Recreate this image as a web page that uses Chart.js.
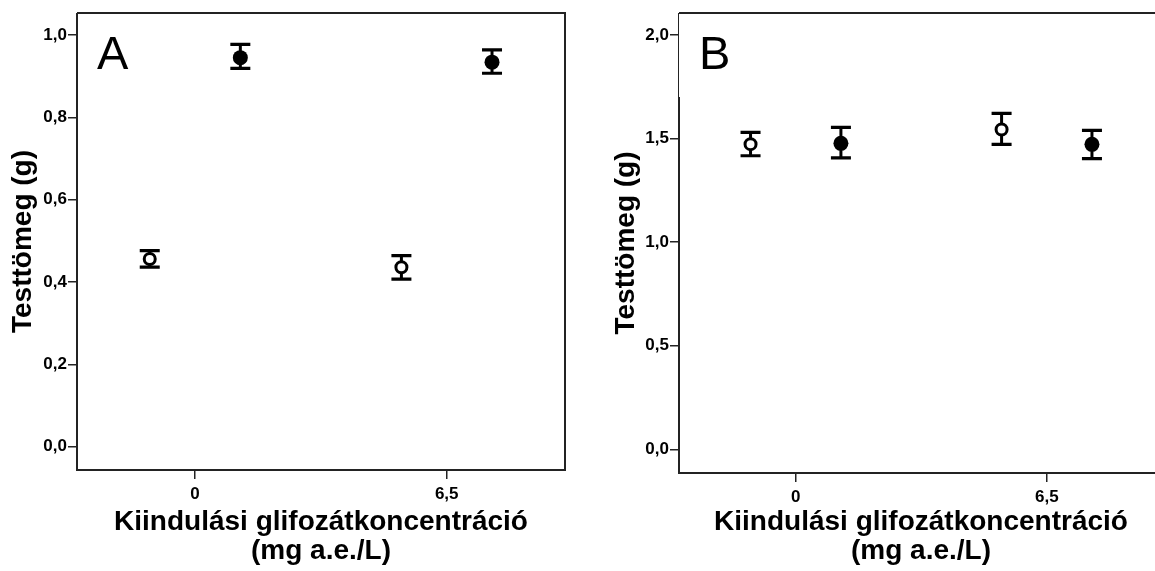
<!DOCTYPE html>
<html>
<head>
<meta charset="utf-8">
<script src="https://cdn.jsdelivr.net/npm/chart.js@4.4.1/dist/chart.umd.min.js"></script>
<style>
  html, body { margin: 0; padding: 0; background: #fff; overflow: hidden; width: 1155px; height: 571px; }
  #panelA { position: absolute; left: 0; top: 0; }
  #panelB { position: absolute; left: 590px; top: 0; }
</style>
</head>
<body>
<canvas id="panelA" width="590" height="571"></canvas>
<canvas id="panelB" width="600" height="571"></canvas>
<script>
// Shared categories and axis texts
const groups = ['0', '6,5'];
const xTitle = ['Kiindulási glifozátkoncentráció', '(mg a.e./L)'];
const yTitle = 'Testtömeg (g)';

// Panel A – body mass (g), mean with error-bar limits
const aTicks = [0, 0.2, 0.4, 0.6, 0.8, 1.0];
const aOpenMean = [0.456, 0.436];
const aOpenLow = [0.436, 0.407];
const aOpenHigh = [0.476, 0.464];
const aFilledMean = [0.945, 0.934];
const aFilledLow = [0.919, 0.907];
const aFilledHigh = [0.977, 0.964];

// Panel B – body mass (g), mean with error-bar limits
const bTicks = [0, 0.5, 1.0, 1.5, 2.0];
const bOpenMean = [1.473, 1.544];
const bOpenLow = [1.417, 1.472];
const bOpenHigh = [1.530, 1.622];
const bFilledMean = [1.477, 1.472];
const bFilledLow = [1.407, 1.403];
const bFilledHigh = [1.554, 1.540];

const FONT = '"Liberation Sans", Arial, sans-serif';
const INK = '#000';
const FRAME = '#232323';
const DODGE = 0.18;

// Whiskers drawn under the markers
const errorBars = {
  id: 'errorBars',
  beforeDatasetsDraw(chart) {
    const { ctx, scales: { x, y } } = chart;
    ctx.save();
    ctx.strokeStyle = INK;
    ctx.lineCap = 'butt';
    chart.data.datasets.forEach(ds => {
      ds.data.forEach((p, i) => {
        const px = x.getPixelForValue(p.x);
        const yl = y.getPixelForValue(ds.errLow[i]);
        const yh = y.getPixelForValue(ds.errHigh[i]);
        ctx.lineWidth = 3;
        ctx.beginPath();
        ctx.moveTo(px, yl); ctx.lineTo(px, yh);
        ctx.stroke();
        ctx.lineWidth = 3.2;
        ctx.beginPath();
        ctx.moveTo(px - 10, yl); ctx.lineTo(px + 10, yl);
        ctx.moveTo(px - 10, yh); ctx.lineTo(px + 10, yh);
        ctx.stroke();
      });
    });
    ctx.restore();
  }
};

// Plot frame and the panel letter
const frame = {
  id: 'frame',
  beforeDatasetsDraw(chart, args, opts) {
    const { ctx, chartArea: a } = chart;
    ctx.save();
    ctx.strokeStyle = FRAME;
    ctx.lineWidth = 2;
    ctx.beginPath();
    ctx.moveTo(a.left, a.top); ctx.lineTo(a.right, a.top);
    ctx.lineTo(a.right, a.bottom); ctx.lineTo(a.left, a.bottom);
    ctx.lineTo(a.left, a.top + (opts.thinTop || 0));
    ctx.stroke();
    if (opts.thinTop) {
      ctx.lineWidth = 1;
      ctx.beginPath();
      ctx.moveTo(a.left - 0.5, a.top); ctx.lineTo(a.left - 0.5, a.top + opts.thinTop);
      ctx.stroke();
    }
    ctx.fillStyle = INK;
    ctx.font = '47px ' + FONT;
    ctx.textBaseline = 'alphabetic';
    ctx.textAlign = 'left';
    ctx.fillText(opts.letter, a.left + 20, a.top + 56);
    ctx.restore();
  }
};

function makePanel(id, cfg) {
  const datasets = [
    {
      label: 'open',
      data: cfg.openMean.map((v, i) => ({ x: i - DODGE, y: v })),
      errLow: cfg.openLow, errHigh: cfg.openHigh,
      pointStyle: 'circle', pointRadius: 5.5, borderWidth: 3,
      backgroundColor: '#fff', borderColor: INK
    },
    {
      label: 'filled',
      data: cfg.filledMean.map((v, i) => ({ x: i + DODGE, y: v })),
      errLow: cfg.filledLow, errHigh: cfg.filledHigh,
      pointStyle: 'circle', pointRadius: 7.5, borderWidth: 0,
      backgroundColor: INK, borderColor: INK
    }
  ];
  return new Chart(document.getElementById(id), {
    type: 'scatter',
    data: { datasets },
    plugins: [frame, errorBars],
    options: {
      responsive: false,
      animation: false,
      devicePixelRatio: 1,
      layout: { padding: { left: 0, top: 13, right: cfg.padRight, bottom: 0 } },
      plugins: {
        legend: { display: false },
        tooltip: { enabled: false },
        frame: { letter: cfg.letter, thinTop: cfg.thinTop }
      },
      scales: {
        x: {
          type: 'linear',
          min: cfg.xMin, max: cfg.xMax,
          afterFit: s => { s.height = cfg.xHeight; },
          afterBuildTicks: s => { s.ticks = groups.map((g, i) => ({ value: i })); },
          ticks: {
            callback: v => groups[v],
            color: INK, padding: 5, maxRotation: 0,
            font: { family: FONT, size: 17, weight: 'bold' }
          },
          grid: { drawOnChartArea: false, drawTicks: true, tickLength: 9, color: FRAME, lineWidth: 1.5 },
          border: { display: false },
          title: {
            display: true, text: xTitle, color: INK,
            padding: { top: 0, bottom: 5 },
            font: { family: FONT, size: 28, weight: 'bold', lineHeight: 1.05 }
          }
        },
        y: {
          type: 'linear',
          min: cfg.yMin, max: cfg.yMax,
          afterFit: s => { s.width = cfg.yWidth; },
          afterBuildTicks: s => { s.ticks = cfg.ticks.map(v => ({ value: v })); },
          ticks: {
            callback: v => v.toFixed(1).replace('.', ','),
            color: INK, padding: 1,
            font: { family: FONT, size: 17, weight: 'bold' }
          },
          grid: { drawOnChartArea: false, drawTicks: true, tickLength: 9, color: FRAME, lineWidth: 1.5 },
          border: { display: false },
          title: {
            display: true, text: yTitle, color: INK,
            padding: { top: cfg.yTitlePad, bottom: 0 },
            font: { family: FONT, size: 28, weight: 'bold', lineHeight: 1.05 }
          }
        }
      }
    }
  });
}

makePanel('panelA', {
  letter: 'A', ticks: aTicks,
  openMean: aOpenMean, openLow: aOpenLow, openHigh: aOpenHigh,
  filledMean: aFilledMean, filledLow: aFilledLow, filledHigh: aFilledHigh,
  yMin: -0.0566, yMax: 1.0534, xMin: -0.469, xMax: 1.470,
  yWidth: 77, xHeight: 101, padRight: 25, yTitlePad: 9
});

makePanel('panelB', {
  letter: 'B', ticks: bTicks, thinTop: 84,
  openMean: bOpenMean, openLow: bOpenLow, openHigh: bOpenHigh,
  filledMean: bFilledMean, filledLow: bFilledLow, filledHigh: bFilledHigh,
  yMin: -0.114, yMax: 2.106, xMin: -0.465, xMax: 1.463,
  yWidth: 89, xHeight: 98, padRight: 27, yTitlePad: 22
});
</script>
</body>
</html>
